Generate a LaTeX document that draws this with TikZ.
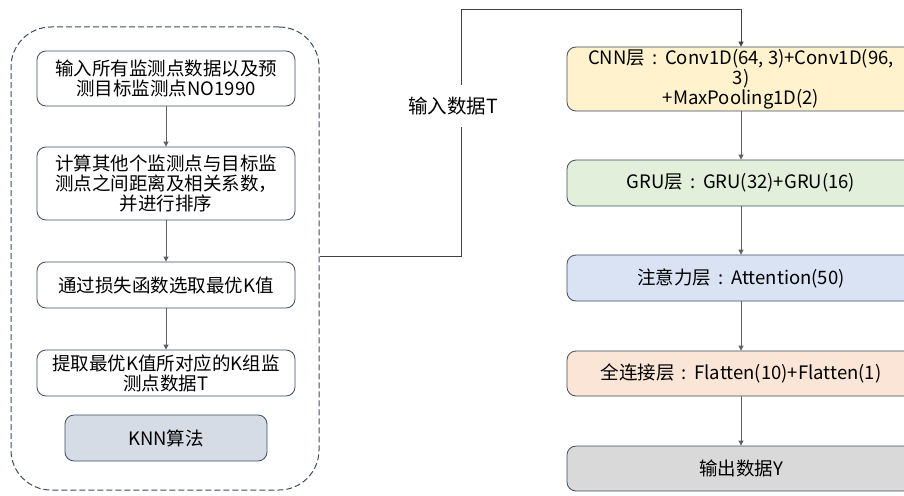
\documentclass[tikz,border=0pt]{standalone}
\usepackage{fontspec}
\setmainfont{Noto Sans CJK SC}
\usetikzlibrary{arrows.meta}
\definecolor{edgeblue}{HTML}{3E4C63}
\definecolor{linegray}{HTML}{5F5F5F}
\definecolor{linedark}{HTML}{404040}
\definecolor{cnnfill}{HTML}{FFF2CC}
\definecolor{grufill}{HTML}{E2EFDA}
\definecolor{attfill}{HTML}{DAE3F3}
\definecolor{fcfill}{HTML}{FBE5D6}
\definecolor{outfill}{HTML}{D9D9D9}
\definecolor{knnfill}{HTML}{D6DCE5}
\newcommand{\lcolon}{\hspace{0.4em}:\hspace{0.4em}}
\tikzset{
  txt/.style={font=\fontsize{18.5}{20}\selectfont, align=center},
  stepbox/.style={txt, draw=edgeblue, line width=0.8pt, rounded corners=9pt,
    fill=white, minimum width=258pt, inner sep=2pt},
  layerbox/.style={stepbox, minimum width=348pt},
  flow/.style={draw=linegray, line width=0.8pt, -{Triangle[length=5pt,width=5pt]}},
}
\begin{document}
\begin{tikzpicture}[x=1pt,y=-1pt]
\useasboundingbox (0,0) rectangle (904,495);
\clip (0,0) rectangle (904,495);

% KNN stage container
\node[draw=edgeblue, dash pattern=on 6pt off 3pt, line width=1pt,
      rounded corners=40pt, minimum width=308pt, minimum height=463pt]
      (cont) at (165,258.5) {};

% KNN steps
\node[stepbox, minimum height=55pt] (s1) at (166,78.5)
  {输入所有监测点数据以及预\\测目标监测点NO1990};
\node[stepbox, minimum height=73pt] (s2) at (166,183.5)
  {计算其他个监测点与目标监\\测点之间距离及相关系数，\\并进行排序};
\node[stepbox, minimum height=46pt] (s3) at (166,285)
  {通过损失函数选取最优K值};
\node[stepbox, minimum height=46pt] (s4) at (166,373)
  {提取最优K值所对应的K组监\\测点数据T};
\node[stepbox, fill=knnfill, minimum width=202pt, minimum height=46pt] (knn) at (166,438)
  {KNN算法};

\draw[flow] (s1) -- (s2);
\draw[flow] (s2) -- (s3);
\draw[flow] (s3) -- (s4);

% network layers
\node[layerbox, fill=cnnfill, minimum height=64pt] (cnn) at (741,79)
  {CNN层\lcolon Conv1D(64, 3)+Conv1D(96,\\3)\\+MaxPooling1D(2)};
\node[layerbox, fill=grufill, minimum height=46pt] (gru) at (741,183)
  {GRU层\lcolon GRU(32)+GRU(16)};
\node[layerbox, fill=attfill, minimum height=46pt] (att) at (741,278)
  {注意力层\lcolon Attention(50)};
\node[layerbox, fill=fcfill, minimum height=45pt] (fc) at (741,373.5)
  {全连接层\lcolon Flatten(10)+Flatten(1)};
\node[layerbox, fill=outfill, minimum height=45pt] (out) at (741,468.5)
  {输出数据Y};

\draw[flow] (cnn) -- (gru);
\draw[flow] (gru) -- (att);
\draw[flow] (att) -- (fc);
\draw[flow] (fc) -- (out);

% data hand-over from KNN to the network
\coordinate (bend) at (461,9);
\draw[flow, draw=linedark] ([yshift=2.5pt]cont.east) -- ([yshift=2.5pt]cont.east -| bend)
  -- (bend) -- (bend -| cnn) -- (cnn.north);
\node[txt, font=\fontsize{19.5}{21}\selectfont, fill=white, inner xsep=2pt, inner ysep=12pt]
  (tin) at (453,106) {输入数据T};
\end{tikzpicture}
\end{document}
